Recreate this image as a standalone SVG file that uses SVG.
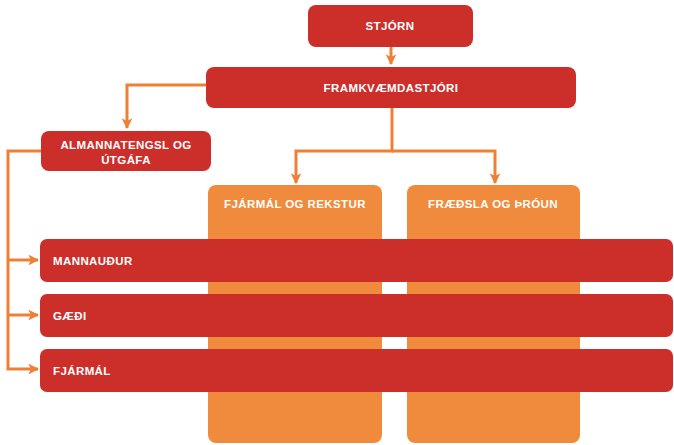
<svg xmlns="http://www.w3.org/2000/svg" width="674" height="445" viewBox="0 0 674 445">
<defs>
<style>
.red{fill:#cc2e2a}
.org{fill:#f08a3c}
.t{fill:#ffffff;font-family:"Liberation Sans",Arial,sans-serif;font-weight:bold;font-size:11.5px;letter-spacing:0.4px}
.c{fill:none;stroke:#ee7f34;stroke-width:3}
</style>
<marker id="ah" viewBox="0 0 10 10" refX="9" refY="5" markerWidth="3.6" markerHeight="3.6" orient="auto" markerUnits="strokeWidth">
<path d="M0,0 L10,5 L0,10 L2.5,5 z" fill="#ee7f34"/>
</marker>
</defs>
<rect width="674" height="445" fill="#ffffff"/>
<g id="fjarmal-rekstur">
<rect class="org" x="208" y="185" width="174" height="258" rx="8"/>
<text class="t" x="295" y="208" text-anchor="middle">FJÁRMÁL OG REKSTUR</text>
</g>
<g id="fraedsla-throun">
<rect class="org" x="407" y="185" width="173" height="258" rx="8"/>
<text class="t" x="493" y="208" text-anchor="middle">FRÆÐSLA OG ÞRÓUN</text>
</g>
<g id="connectors">
<path class="c" d="M391,47 V64" marker-end="url(#ah)"/>
<path class="c" d="M206,85 H127 V128" marker-end="url(#ah)"/>
<path class="c" d="M392,108 V151 H296 V183" marker-end="url(#ah)"/>
<path class="c" d="M392,151 H495 V183" marker-end="url(#ah)"/>
<path class="c" d="M41,151 H8 V369 H38" marker-end="url(#ah)"/>
<path class="c" d="M8,260 H38" marker-end="url(#ah)"/>
<path class="c" d="M8,315 H38" marker-end="url(#ah)"/>
</g>
<g id="stjorn">
<rect class="red" x="308" y="5" width="165" height="42" rx="8"/>
<text class="t" x="390" y="30" text-anchor="middle">STJÓRN</text>
</g>
<g id="framkvaemdastjori">
<rect class="red" x="206" y="67" width="370" height="41" rx="8"/>
<text class="t" x="391" y="92" text-anchor="middle">FRAMKVÆMDASTJÓRI</text>
</g>
<g id="almannatengsl">
<rect class="red" x="41" y="131" width="170" height="40" rx="8"/>
<text class="t" x="126" y="149" text-anchor="middle">ALMANNATENGSL OG</text>
<text class="t" x="126" y="164" text-anchor="middle">ÚTGÁFA</text>
</g>
<g id="mannaudur">
<rect class="red" x="40" y="239" width="633" height="43" rx="7"/>
<text class="t" x="53" y="265">MANNAUÐUR</text>
</g>
<g id="gaedi">
<rect class="red" x="40" y="294" width="633" height="43" rx="7"/>
<text class="t" x="53" y="320">GÆÐI</text>
</g>
<g id="fjarmal">
<rect class="red" x="40" y="349" width="633" height="43" rx="7"/>
<text class="t" x="53" y="375">FJÁRMÁL</text>
</g>
</svg>
